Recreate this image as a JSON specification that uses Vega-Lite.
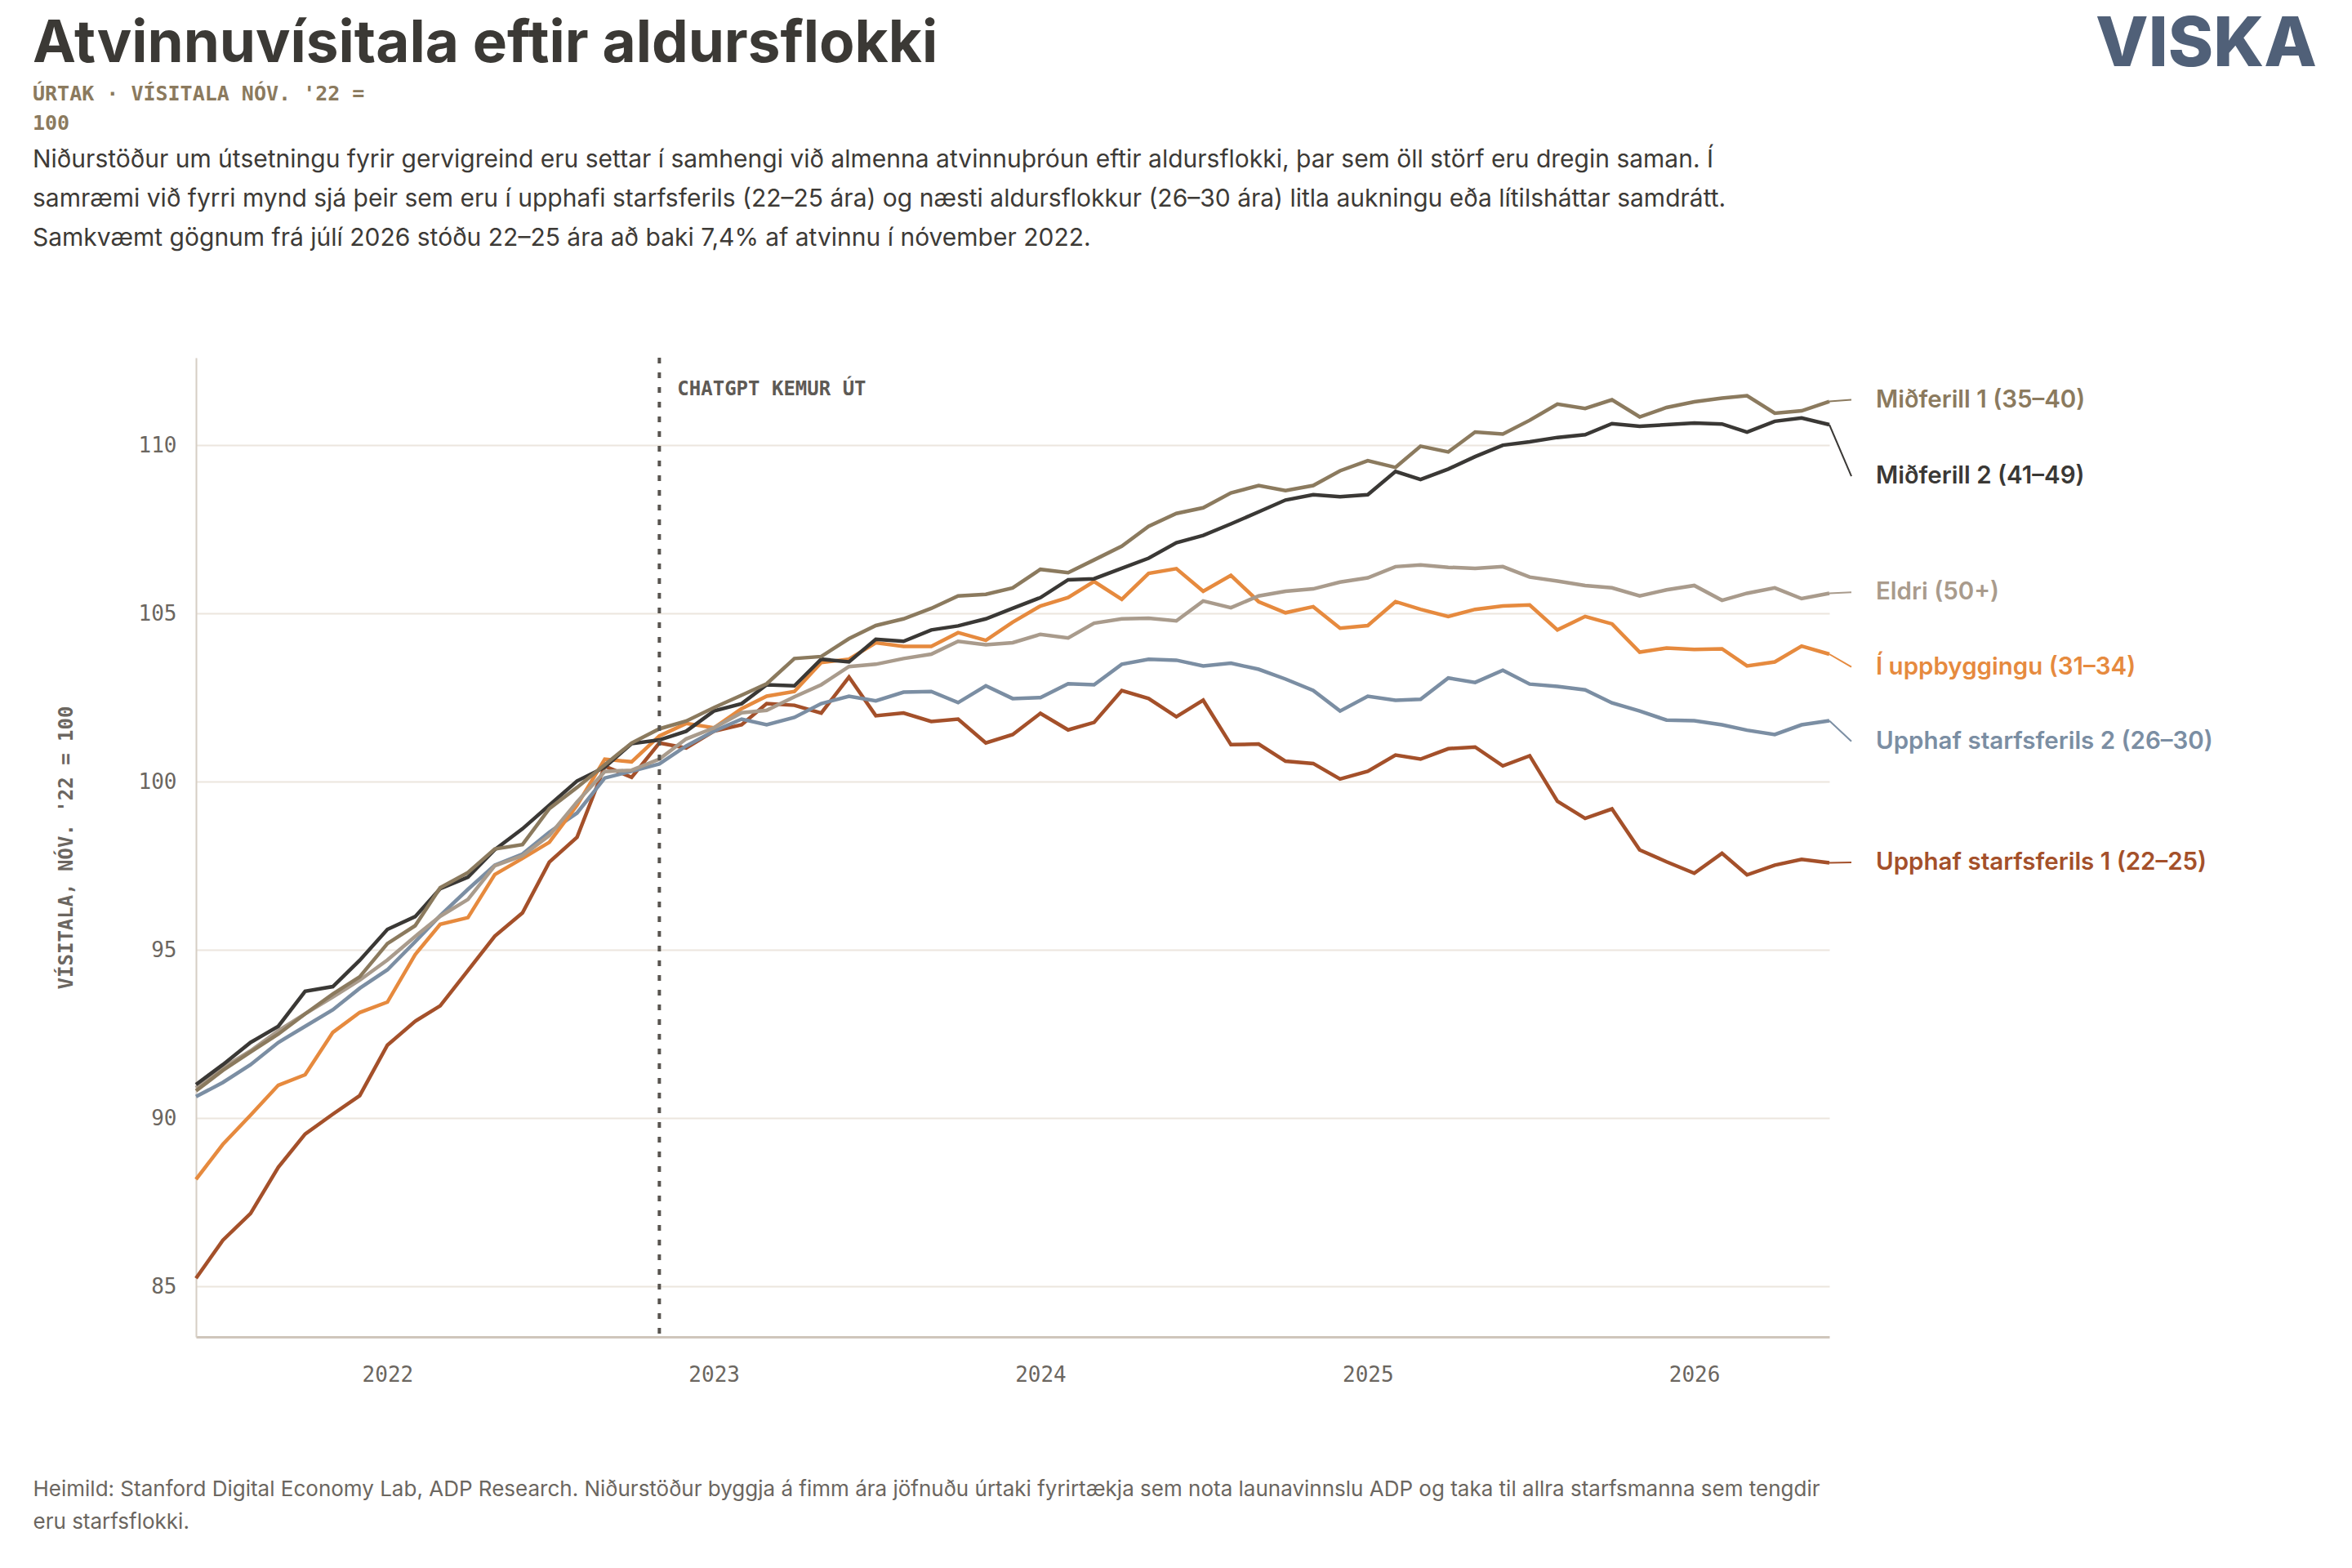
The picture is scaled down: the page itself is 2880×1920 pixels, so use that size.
{
  "$schema": "https://vega.github.io/schema/vega-lite/v6.json",
  "description": "Atvinnuvísitala eftir aldursflokki, vísitala nóv. '22 = 100",
  "background": "#ffffff",
  "padding": {"left": 40, "top": 14, "right": 20, "bottom": 10},
  "datasets": {
    "series": [
      {"date": "2021-06-01", "group": "22–25", "value": 85.24},
      {"date": "2021-07-01", "group": "22–25", "value": 86.37},
      {"date": "2021-08-01", "group": "22–25", "value": 87.17},
      {"date": "2021-09-01", "group": "22–25", "value": 88.54},
      {"date": "2021-10-01", "group": "22–25", "value": 89.53},
      {"date": "2021-11-01", "group": "22–25", "value": 90.12},
      {"date": "2021-12-01", "group": "22–25", "value": 90.67},
      {"date": "2022-01-01", "group": "22–25", "value": 92.17},
      {"date": "2022-02-01", "group": "22–25", "value": 92.88},
      {"date": "2022-03-01", "group": "22–25", "value": 93.34},
      {"date": "2022-04-01", "group": "22–25", "value": 94.39},
      {"date": "2022-05-01", "group": "22–25", "value": 95.41},
      {"date": "2022-06-01", "group": "22–25", "value": 96.10},
      {"date": "2022-07-01", "group": "22–25", "value": 97.61},
      {"date": "2022-08-01", "group": "22–25", "value": 98.35},
      {"date": "2022-09-01", "group": "22–25", "value": 100.46},
      {"date": "2022-10-01", "group": "22–25", "value": 100.13},
      {"date": "2022-11-01", "group": "22–25", "value": 101.15},
      {"date": "2022-12-01", "group": "22–25", "value": 101.00},
      {"date": "2023-01-01", "group": "22–25", "value": 101.50},
      {"date": "2023-02-01", "group": "22–25", "value": 101.69},
      {"date": "2023-03-01", "group": "22–25", "value": 102.32},
      {"date": "2023-04-01", "group": "22–25", "value": 102.27},
      {"date": "2023-05-01", "group": "22–25", "value": 102.04},
      {"date": "2023-06-01", "group": "22–25", "value": 103.11},
      {"date": "2023-07-01", "group": "22–25", "value": 101.96},
      {"date": "2023-08-01", "group": "22–25", "value": 102.04},
      {"date": "2023-09-01", "group": "22–25", "value": 101.79},
      {"date": "2023-10-01", "group": "22–25", "value": 101.86},
      {"date": "2023-11-01", "group": "22–25", "value": 101.15},
      {"date": "2023-12-01", "group": "22–25", "value": 101.40},
      {"date": "2024-01-01", "group": "22–25", "value": 102.03},
      {"date": "2024-02-01", "group": "22–25", "value": 101.54},
      {"date": "2024-03-01", "group": "22–25", "value": 101.76},
      {"date": "2024-04-01", "group": "22–25", "value": 102.71},
      {"date": "2024-05-01", "group": "22–25", "value": 102.47},
      {"date": "2024-06-01", "group": "22–25", "value": 101.93},
      {"date": "2024-07-01", "group": "22–25", "value": 102.42},
      {"date": "2024-08-01", "group": "22–25", "value": 101.10},
      {"date": "2024-09-01", "group": "22–25", "value": 101.12},
      {"date": "2024-10-01", "group": "22–25", "value": 100.61},
      {"date": "2024-11-01", "group": "22–25", "value": 100.54},
      {"date": "2024-12-01", "group": "22–25", "value": 100.08},
      {"date": "2025-01-01", "group": "22–25", "value": 100.31},
      {"date": "2025-02-01", "group": "22–25", "value": 100.79},
      {"date": "2025-03-01", "group": "22–25", "value": 100.67},
      {"date": "2025-04-01", "group": "22–25", "value": 100.98},
      {"date": "2025-05-01", "group": "22–25", "value": 101.03},
      {"date": "2025-06-01", "group": "22–25", "value": 100.47},
      {"date": "2025-07-01", "group": "22–25", "value": 100.77},
      {"date": "2025-08-01", "group": "22–25", "value": 99.42},
      {"date": "2025-09-01", "group": "22–25", "value": 98.91},
      {"date": "2025-10-01", "group": "22–25", "value": 99.19},
      {"date": "2025-11-01", "group": "22–25", "value": 97.97},
      {"date": "2025-12-01", "group": "22–25", "value": 97.62},
      {"date": "2026-01-01", "group": "22–25", "value": 97.28},
      {"date": "2026-02-01", "group": "22–25", "value": 97.87},
      {"date": "2026-03-01", "group": "22–25", "value": 97.23},
      {"date": "2026-04-01", "group": "22–25", "value": 97.52},
      {"date": "2026-05-01", "group": "22–25", "value": 97.69},
      {"date": "2026-06-01", "group": "22–25", "value": 97.59},

      {"date": "2021-06-01", "group": "26–30", "value": 90.64},
      {"date": "2021-07-01", "group": "26–30", "value": 91.06},
      {"date": "2021-08-01", "group": "26–30", "value": 91.59},
      {"date": "2021-09-01", "group": "26–30", "value": 92.25},
      {"date": "2021-10-01", "group": "26–30", "value": 92.73},
      {"date": "2021-11-01", "group": "26–30", "value": 93.22},
      {"date": "2021-12-01", "group": "26–30", "value": 93.86},
      {"date": "2022-01-01", "group": "26–30", "value": 94.41},
      {"date": "2022-02-01", "group": "26–30", "value": 95.24},
      {"date": "2022-03-01", "group": "26–30", "value": 96.02},
      {"date": "2022-04-01", "group": "26–30", "value": 96.80},
      {"date": "2022-05-01", "group": "26–30", "value": 97.52},
      {"date": "2022-06-01", "group": "26–30", "value": 97.85},
      {"date": "2022-07-01", "group": "26–30", "value": 98.50},
      {"date": "2022-08-01", "group": "26–30", "value": 99.07},
      {"date": "2022-09-01", "group": "26–30", "value": 100.11},
      {"date": "2022-10-01", "group": "26–30", "value": 100.31},
      {"date": "2022-11-01", "group": "26–30", "value": 100.53},
      {"date": "2022-12-01", "group": "26–30", "value": 101.06},
      {"date": "2023-01-01", "group": "26–30", "value": 101.50},
      {"date": "2023-02-01", "group": "26–30", "value": 101.86},
      {"date": "2023-03-01", "group": "26–30", "value": 101.69},
      {"date": "2023-04-01", "group": "26–30", "value": 101.91},
      {"date": "2023-05-01", "group": "26–30", "value": 102.32},
      {"date": "2023-06-01", "group": "26–30", "value": 102.54},
      {"date": "2023-07-01", "group": "26–30", "value": 102.40},
      {"date": "2023-08-01", "group": "26–30", "value": 102.66},
      {"date": "2023-09-01", "group": "26–30", "value": 102.68},
      {"date": "2023-10-01", "group": "26–30", "value": 102.35},
      {"date": "2023-11-01", "group": "26–30", "value": 102.85},
      {"date": "2023-12-01", "group": "26–30", "value": 102.47},
      {"date": "2024-01-01", "group": "26–30", "value": 102.50},
      {"date": "2024-02-01", "group": "26–30", "value": 102.91},
      {"date": "2024-03-01", "group": "26–30", "value": 102.88},
      {"date": "2024-04-01", "group": "26–30", "value": 103.49},
      {"date": "2024-05-01", "group": "26–30", "value": 103.64},
      {"date": "2024-06-01", "group": "26–30", "value": 103.61},
      {"date": "2024-07-01", "group": "26–30", "value": 103.44},
      {"date": "2024-08-01", "group": "26–30", "value": 103.52},
      {"date": "2024-09-01", "group": "26–30", "value": 103.34},
      {"date": "2024-10-01", "group": "26–30", "value": 103.05},
      {"date": "2024-11-01", "group": "26–30", "value": 102.71},
      {"date": "2024-12-01", "group": "26–30", "value": 102.10},
      {"date": "2025-01-01", "group": "26–30", "value": 102.54},
      {"date": "2025-02-01", "group": "26–30", "value": 102.42},
      {"date": "2025-03-01", "group": "26–30", "value": 102.45},
      {"date": "2025-04-01", "group": "26–30", "value": 103.08},
      {"date": "2025-05-01", "group": "26–30", "value": 102.95},
      {"date": "2025-06-01", "group": "26–30", "value": 103.31},
      {"date": "2025-07-01", "group": "26–30", "value": 102.90},
      {"date": "2025-08-01", "group": "26–30", "value": 102.83},
      {"date": "2025-09-01", "group": "26–30", "value": 102.73},
      {"date": "2025-10-01", "group": "26–30", "value": 102.34},
      {"date": "2025-11-01", "group": "26–30", "value": 102.10},
      {"date": "2025-12-01", "group": "26–30", "value": 101.83},
      {"date": "2026-01-01", "group": "26–30", "value": 101.81},
      {"date": "2026-02-01", "group": "26–30", "value": 101.69},
      {"date": "2026-03-01", "group": "26–30", "value": 101.53},
      {"date": "2026-04-01", "group": "26–30", "value": 101.40},
      {"date": "2026-05-01", "group": "26–30", "value": 101.69},
      {"date": "2026-06-01", "group": "26–30", "value": 101.81},

      {"date": "2021-06-01", "group": "31–34", "value": 88.18},
      {"date": "2021-07-01", "group": "31–34", "value": 89.22},
      {"date": "2021-08-01", "group": "31–34", "value": 90.09},
      {"date": "2021-09-01", "group": "31–34", "value": 90.98},
      {"date": "2021-10-01", "group": "31–34", "value": 91.29},
      {"date": "2021-11-01", "group": "31–34", "value": 92.55},
      {"date": "2021-12-01", "group": "31–34", "value": 93.14},
      {"date": "2022-01-01", "group": "31–34", "value": 93.45},
      {"date": "2022-02-01", "group": "31–34", "value": 94.86},
      {"date": "2022-03-01", "group": "31–34", "value": 95.76},
      {"date": "2022-04-01", "group": "31–34", "value": 95.96},
      {"date": "2022-05-01", "group": "31–34", "value": 97.24},
      {"date": "2022-06-01", "group": "31–34", "value": 97.72},
      {"date": "2022-07-01", "group": "31–34", "value": 98.20},
      {"date": "2022-08-01", "group": "31–34", "value": 99.30},
      {"date": "2022-09-01", "group": "31–34", "value": 100.67},
      {"date": "2022-10-01", "group": "31–34", "value": 100.59},
      {"date": "2022-11-01", "group": "31–34", "value": 101.36},
      {"date": "2022-12-01", "group": "31–34", "value": 101.73},
      {"date": "2023-01-01", "group": "31–34", "value": 101.60},
      {"date": "2023-02-01", "group": "31–34", "value": 102.17},
      {"date": "2023-03-01", "group": "31–34", "value": 102.54},
      {"date": "2023-04-01", "group": "31–34", "value": 102.68},
      {"date": "2023-05-01", "group": "31–34", "value": 103.54},
      {"date": "2023-06-01", "group": "31–34", "value": 103.64},
      {"date": "2023-07-01", "group": "31–34", "value": 104.13},
      {"date": "2023-08-01", "group": "31–34", "value": 104.02},
      {"date": "2023-09-01", "group": "31–34", "value": 104.02},
      {"date": "2023-10-01", "group": "31–34", "value": 104.43},
      {"date": "2023-11-01", "group": "31–34", "value": 104.20},
      {"date": "2023-12-01", "group": "31–34", "value": 104.74},
      {"date": "2024-01-01", "group": "31–34", "value": 105.22},
      {"date": "2024-02-01", "group": "31–34", "value": 105.47},
      {"date": "2024-03-01", "group": "31–34", "value": 105.95},
      {"date": "2024-04-01", "group": "31–34", "value": 105.42},
      {"date": "2024-05-01", "group": "31–34", "value": 106.19},
      {"date": "2024-06-01", "group": "31–34", "value": 106.33},
      {"date": "2024-07-01", "group": "31–34", "value": 105.66},
      {"date": "2024-08-01", "group": "31–34", "value": 106.13},
      {"date": "2024-09-01", "group": "31–34", "value": 105.35},
      {"date": "2024-10-01", "group": "31–34", "value": 105.02},
      {"date": "2024-11-01", "group": "31–34", "value": 105.20},
      {"date": "2024-12-01", "group": "31–34", "value": 104.56},
      {"date": "2025-01-01", "group": "31–34", "value": 104.64},
      {"date": "2025-02-01", "group": "31–34", "value": 105.35},
      {"date": "2025-03-01", "group": "31–34", "value": 105.12},
      {"date": "2025-04-01", "group": "31–34", "value": 104.91},
      {"date": "2025-05-01", "group": "31–34", "value": 105.12},
      {"date": "2025-06-01", "group": "31–34", "value": 105.22},
      {"date": "2025-07-01", "group": "31–34", "value": 105.25},
      {"date": "2025-08-01", "group": "31–34", "value": 104.51},
      {"date": "2025-09-01", "group": "31–34", "value": 104.91},
      {"date": "2025-10-01", "group": "31–34", "value": 104.69},
      {"date": "2025-11-01", "group": "31–34", "value": 103.85},
      {"date": "2025-12-01", "group": "31–34", "value": 103.97},
      {"date": "2026-01-01", "group": "31–34", "value": 103.93},
      {"date": "2026-02-01", "group": "31–34", "value": 103.95},
      {"date": "2026-03-01", "group": "31–34", "value": 103.44},
      {"date": "2026-04-01", "group": "31–34", "value": 103.56},
      {"date": "2026-05-01", "group": "31–34", "value": 104.03},
      {"date": "2026-06-01", "group": "31–34", "value": 103.79},

      {"date": "2021-06-01", "group": "50+", "value": 90.90},
      {"date": "2021-07-01", "group": "50+", "value": 91.50},
      {"date": "2021-08-01", "group": "50+", "value": 92.00},
      {"date": "2021-09-01", "group": "50+", "value": 92.60},
      {"date": "2021-10-01", "group": "50+", "value": 93.10},
      {"date": "2021-11-01", "group": "50+", "value": 93.60},
      {"date": "2021-12-01", "group": "50+", "value": 94.10},
      {"date": "2022-01-01", "group": "50+", "value": 94.70},
      {"date": "2022-02-01", "group": "50+", "value": 95.40},
      {"date": "2022-03-01", "group": "50+", "value": 96.00},
      {"date": "2022-04-01", "group": "50+", "value": 96.50},
      {"date": "2022-05-01", "group": "50+", "value": 97.50},
      {"date": "2022-06-01", "group": "50+", "value": 97.80},
      {"date": "2022-07-01", "group": "50+", "value": 98.40},
      {"date": "2022-08-01", "group": "50+", "value": 99.40},
      {"date": "2022-09-01", "group": "50+", "value": 100.30},
      {"date": "2022-10-01", "group": "50+", "value": 100.34},
      {"date": "2022-11-01", "group": "50+", "value": 100.67},
      {"date": "2022-12-01", "group": "50+", "value": 101.27},
      {"date": "2023-01-01", "group": "50+", "value": 101.60},
      {"date": "2023-02-01", "group": "50+", "value": 102.05},
      {"date": "2023-03-01", "group": "50+", "value": 102.12},
      {"date": "2023-04-01", "group": "50+", "value": 102.52},
      {"date": "2023-05-01", "group": "50+", "value": 102.88},
      {"date": "2023-06-01", "group": "50+", "value": 103.42},
      {"date": "2023-07-01", "group": "50+", "value": 103.49},
      {"date": "2023-08-01", "group": "50+", "value": 103.66},
      {"date": "2023-09-01", "group": "50+", "value": 103.79},
      {"date": "2023-10-01", "group": "50+", "value": 104.17},
      {"date": "2023-11-01", "group": "50+", "value": 104.07},
      {"date": "2023-12-01", "group": "50+", "value": 104.13},
      {"date": "2024-01-01", "group": "50+", "value": 104.38},
      {"date": "2024-02-01", "group": "50+", "value": 104.27},
      {"date": "2024-03-01", "group": "50+", "value": 104.71},
      {"date": "2024-04-01", "group": "50+", "value": 104.84},
      {"date": "2024-05-01", "group": "50+", "value": 104.86},
      {"date": "2024-06-01", "group": "50+", "value": 104.78},
      {"date": "2024-07-01", "group": "50+", "value": 105.37},
      {"date": "2024-08-01", "group": "50+", "value": 105.17},
      {"date": "2024-09-01", "group": "50+", "value": 105.52},
      {"date": "2024-10-01", "group": "50+", "value": 105.66},
      {"date": "2024-11-01", "group": "50+", "value": 105.73},
      {"date": "2024-12-01", "group": "50+", "value": 105.93},
      {"date": "2025-01-01", "group": "50+", "value": 106.06},
      {"date": "2025-02-01", "group": "50+", "value": 106.39},
      {"date": "2025-03-01", "group": "50+", "value": 106.44},
      {"date": "2025-04-01", "group": "50+", "value": 106.37},
      {"date": "2025-05-01", "group": "50+", "value": 106.34},
      {"date": "2025-06-01", "group": "50+", "value": 106.39},
      {"date": "2025-07-01", "group": "50+", "value": 106.08},
      {"date": "2025-08-01", "group": "50+", "value": 105.96},
      {"date": "2025-09-01", "group": "50+", "value": 105.83},
      {"date": "2025-10-01", "group": "50+", "value": 105.76},
      {"date": "2025-11-01", "group": "50+", "value": 105.52},
      {"date": "2025-12-01", "group": "50+", "value": 105.70},
      {"date": "2026-01-01", "group": "50+", "value": 105.83},
      {"date": "2026-02-01", "group": "50+", "value": 105.39},
      {"date": "2026-03-01", "group": "50+", "value": 105.60},
      {"date": "2026-04-01", "group": "50+", "value": 105.76},
      {"date": "2026-05-01", "group": "50+", "value": 105.44},
      {"date": "2026-06-01", "group": "50+", "value": 105.60},

      {"date": "2021-06-01", "group": "41–49", "value": 91.00},
      {"date": "2021-07-01", "group": "41–49", "value": 91.59},
      {"date": "2021-08-01", "group": "41–49", "value": 92.25},
      {"date": "2021-09-01", "group": "41–49", "value": 92.73},
      {"date": "2021-10-01", "group": "41–49", "value": 93.77},
      {"date": "2021-11-01", "group": "41–49", "value": 93.91},
      {"date": "2021-12-01", "group": "41–49", "value": 94.69},
      {"date": "2022-01-01", "group": "41–49", "value": 95.61},
      {"date": "2022-02-01", "group": "41–49", "value": 95.99},
      {"date": "2022-03-01", "group": "41–49", "value": 96.82},
      {"date": "2022-04-01", "group": "41–49", "value": 97.16},
      {"date": "2022-05-01", "group": "41–49", "value": 97.98},
      {"date": "2022-06-01", "group": "41–49", "value": 98.60},
      {"date": "2022-07-01", "group": "41–49", "value": 99.30},
      {"date": "2022-08-01", "group": "41–49", "value": 100.02},
      {"date": "2022-09-01", "group": "41–49", "value": 100.43},
      {"date": "2022-10-01", "group": "41–49", "value": 101.13},
      {"date": "2022-11-01", "group": "41–49", "value": 101.24},
      {"date": "2022-12-01", "group": "41–49", "value": 101.50},
      {"date": "2023-01-01", "group": "41–49", "value": 102.10},
      {"date": "2023-02-01", "group": "41–49", "value": 102.32},
      {"date": "2023-03-01", "group": "41–49", "value": 102.88},
      {"date": "2023-04-01", "group": "41–49", "value": 102.85},
      {"date": "2023-05-01", "group": "41–49", "value": 103.64},
      {"date": "2023-06-01", "group": "41–49", "value": 103.56},
      {"date": "2023-07-01", "group": "41–49", "value": 104.23},
      {"date": "2023-08-01", "group": "41–49", "value": 104.17},
      {"date": "2023-09-01", "group": "41–49", "value": 104.51},
      {"date": "2023-10-01", "group": "41–49", "value": 104.63},
      {"date": "2023-11-01", "group": "41–49", "value": 104.84},
      {"date": "2023-12-01", "group": "41–49", "value": 105.15},
      {"date": "2024-01-01", "group": "41–49", "value": 105.47},
      {"date": "2024-02-01", "group": "41–49", "value": 106.00},
      {"date": "2024-03-01", "group": "41–49", "value": 106.03},
      {"date": "2024-04-01", "group": "41–49", "value": 106.34},
      {"date": "2024-05-01", "group": "41–49", "value": 106.64},
      {"date": "2024-06-01", "group": "41–49", "value": 107.10},
      {"date": "2024-07-01", "group": "41–49", "value": 107.32},
      {"date": "2024-08-01", "group": "41–49", "value": 107.66},
      {"date": "2024-09-01", "group": "41–49", "value": 108.02},
      {"date": "2024-10-01", "group": "41–49", "value": 108.37},
      {"date": "2024-11-01", "group": "41–49", "value": 108.53},
      {"date": "2024-12-01", "group": "41–49", "value": 108.47},
      {"date": "2025-01-01", "group": "41–49", "value": 108.53},
      {"date": "2025-02-01", "group": "41–49", "value": 109.22},
      {"date": "2025-03-01", "group": "41–49", "value": 108.98},
      {"date": "2025-04-01", "group": "41–49", "value": 109.29},
      {"date": "2025-05-01", "group": "41–49", "value": 109.66},
      {"date": "2025-06-01", "group": "41–49", "value": 110.00},
      {"date": "2025-07-01", "group": "41–49", "value": 110.10},
      {"date": "2025-08-01", "group": "41–49", "value": 110.23},
      {"date": "2025-09-01", "group": "41–49", "value": 110.31},
      {"date": "2025-10-01", "group": "41–49", "value": 110.64},
      {"date": "2025-11-01", "group": "41–49", "value": 110.56},
      {"date": "2025-12-01", "group": "41–49", "value": 110.61},
      {"date": "2026-01-01", "group": "41–49", "value": 110.66},
      {"date": "2026-02-01", "group": "41–49", "value": 110.63},
      {"date": "2026-03-01", "group": "41–49", "value": 110.39},
      {"date": "2026-04-01", "group": "41–49", "value": 110.71},
      {"date": "2026-05-01", "group": "41–49", "value": 110.81},
      {"date": "2026-06-01", "group": "41–49", "value": 110.61},

      {"date": "2021-06-01", "group": "35–40", "value": 90.81},
      {"date": "2021-07-01", "group": "35–40", "value": 91.42},
      {"date": "2021-08-01", "group": "35–40", "value": 91.97},
      {"date": "2021-09-01", "group": "35–40", "value": 92.50},
      {"date": "2021-10-01", "group": "35–40", "value": 93.10},
      {"date": "2021-11-01", "group": "35–40", "value": 93.69},
      {"date": "2021-12-01", "group": "35–40", "value": 94.20},
      {"date": "2022-01-01", "group": "35–40", "value": 95.19},
      {"date": "2022-02-01", "group": "35–40", "value": 95.72},
      {"date": "2022-03-01", "group": "35–40", "value": 96.85},
      {"date": "2022-04-01", "group": "35–40", "value": 97.30},
      {"date": "2022-05-01", "group": "35–40", "value": 98.00},
      {"date": "2022-06-01", "group": "35–40", "value": 98.13},
      {"date": "2022-07-01", "group": "35–40", "value": 99.20},
      {"date": "2022-08-01", "group": "35–40", "value": 99.83},
      {"date": "2022-09-01", "group": "35–40", "value": 100.50},
      {"date": "2022-10-01", "group": "35–40", "value": 101.15},
      {"date": "2022-11-01", "group": "35–40", "value": 101.57},
      {"date": "2022-12-01", "group": "35–40", "value": 101.80},
      {"date": "2023-01-01", "group": "35–40", "value": 102.20},
      {"date": "2023-02-01", "group": "35–40", "value": 102.57},
      {"date": "2023-03-01", "group": "35–40", "value": 102.91},
      {"date": "2023-04-01", "group": "35–40", "value": 103.66},
      {"date": "2023-05-01", "group": "35–40", "value": 103.72},
      {"date": "2023-06-01", "group": "35–40", "value": 104.25},
      {"date": "2023-07-01", "group": "35–40", "value": 104.64},
      {"date": "2023-08-01", "group": "35–40", "value": 104.84},
      {"date": "2023-09-01", "group": "35–40", "value": 105.15},
      {"date": "2023-10-01", "group": "35–40", "value": 105.52},
      {"date": "2023-11-01", "group": "35–40", "value": 105.57},
      {"date": "2023-12-01", "group": "35–40", "value": 105.76},
      {"date": "2024-01-01", "group": "35–40", "value": 106.31},
      {"date": "2024-02-01", "group": "35–40", "value": 106.21},
      {"date": "2024-03-01", "group": "35–40", "value": 106.59},
      {"date": "2024-04-01", "group": "35–40", "value": 107.00},
      {"date": "2024-05-01", "group": "35–40", "value": 107.59},
      {"date": "2024-06-01", "group": "35–40", "value": 107.97},
      {"date": "2024-07-01", "group": "35–40", "value": 108.14},
      {"date": "2024-08-01", "group": "35–40", "value": 108.58},
      {"date": "2024-09-01", "group": "35–40", "value": 108.80},
      {"date": "2024-10-01", "group": "35–40", "value": 108.65},
      {"date": "2024-11-01", "group": "35–40", "value": 108.80},
      {"date": "2024-12-01", "group": "35–40", "value": 109.24},
      {"date": "2025-01-01", "group": "35–40", "value": 109.54},
      {"date": "2025-02-01", "group": "35–40", "value": 109.34},
      {"date": "2025-03-01", "group": "35–40", "value": 109.97},
      {"date": "2025-04-01", "group": "35–40", "value": 109.80},
      {"date": "2025-05-01", "group": "35–40", "value": 110.39},
      {"date": "2025-06-01", "group": "35–40", "value": 110.33},
      {"date": "2025-07-01", "group": "35–40", "value": 110.74},
      {"date": "2025-08-01", "group": "35–40", "value": 111.22},
      {"date": "2025-09-01", "group": "35–40", "value": 111.09},
      {"date": "2025-10-01", "group": "35–40", "value": 111.35},
      {"date": "2025-11-01", "group": "35–40", "value": 110.84},
      {"date": "2025-12-01", "group": "35–40", "value": 111.12},
      {"date": "2026-01-01", "group": "35–40", "value": 111.29},
      {"date": "2026-02-01", "group": "35–40", "value": 111.40},
      {"date": "2026-03-01", "group": "35–40", "value": 111.47},
      {"date": "2026-04-01", "group": "35–40", "value": 110.95},
      {"date": "2026-05-01", "group": "35–40", "value": 111.02},
      {"date": "2026-06-01", "group": "35–40", "value": 111.30}
    ],
    "labels": [
      {"group": "35–40", "label": "Miðferill 1 (35–40)", "labelAt": 111.35},
      {"group": "41–49", "label": "Miðferill 2 (41–49)", "labelAt": 109.08},
      {"group": "50+", "label": "Eldri (50+)", "labelAt": 105.63},
      {"group": "31–34", "label": "Í uppbyggingu (31–34)", "labelAt": 103.41},
      {"group": "26–30", "label": "Upphaf starfsferils 2 (26–30)", "labelAt": 101.2},
      {"group": "22–25", "label": "Upphaf starfsferils 1 (22–25)", "labelAt": 97.6}
    ],
    "events": [
      {"date": "2022-11-01", "label": "CHATGPT KEMUR ÚT"}
    ]
  },
  "title": {
    "text": "VISKA",
    "anchor": "end",
    "frame": "bounds",
    "font": "Inter",
    "fontSize": 84,
    "fontWeight": 800,
    "color": "#506078",
    "dx": 127,
    "dy": 80,
    "offset": 0
  },
  "vconcat": [
    {
      "title": {
        "text": "Atvinnuvísitala eftir aldursflokki",
        "subtitle": ["ÚRTAK · VÍSITALA NÓV. '22 =", "100"],
        "anchor": "start",
        "frame": "bounds",
        "font": "Inter",
        "fontSize": 71,
        "fontWeight": 700,
        "color": "#3b3935",
        "subtitleFont": "DejaVu Sans Mono",
        "subtitleFontSize": 25,
        "subtitleFontWeight": "bold",
        "subtitleColor": "#8b7a5e",
        "subtitleLineHeight": 36,
        "subtitlePadding": 12,
        "offset": 16
      },
      "vconcat": [
        {
          "title": {
            "text": [
              "Niðurstöður um útsetningu fyrir gervigreind eru settar í samhengi við almenna atvinnuþróun eftir aldursflokki, þar sem öll störf eru dregin saman. Í",
              "samræmi við fyrri mynd sjá þeir sem eru í upphafi starfsferils (22–25 ára) og næsti aldursflokkur (26–30 ára) litla aukningu eða lítilsháttar samdrátt.",
              "Samkvæmt gögnum frá júlí 2026 stóðu 22–25 ára að baki 7,4% af atvinnu í nóvember 2022."
            ],
            "anchor": "start",
            "frame": "bounds",
            "font": "Inter",
            "fontSize": 30,
            "fontWeight": 400,
            "color": "#3d3a36",
            "lineHeight": 48,
            "offset": 129
          },
          "width": 2000,
          "height": 1199,
          "encoding": {
            "x": {
              "field": "date",
              "type": "temporal",
              "scale": {
                "type": "utc",
                "nice": false,
                "domain": [
                  {"year": 2021, "month": 6, "date": 1, "utc": true},
                  {"year": 2026, "month": 6, "date": 1, "utc": true}
                ]
              },
              "axis": {
                "title": [
                  "Heimild: Stanford Digital Economy Lab, ADP Research. Niðurstöður byggja á fimm ára jöfnuðu úrtaki fyrirtækja sem nota launavinnslu ADP og taka til allra starfsmanna sem tengdir",
                  "eru starfsflokki."
                ],
                "titleFont": "Inter",
                "titleFontSize": 26,
                "titleFontWeight": 400,
                "titleColor": "#6b6660",
                "titleAnchor": "start",
                "titleAlign": "left",
                "titleBaseline": "top",
                "titleLineHeight": 40,
                "titleX": -200,
                "titleY": 173,
                "format": "%Y",
                "tickCount": {"interval": "year", "step": 1},
                "labelFont": "DejaVu Sans Mono",
                "labelFontSize": 26,
                "labelColor": "#6b6660",
                "labelPadding": 33,
                "ticks": false,
                "grid": false,
                "domainColor": "#cfc6bb",
                "domainWidth": 3
              }
            }
          },
          "layer": [
            {
              "data": {"name": "series"},
              "mark": {"type": "line", "strokeWidth": 4.5},
              "encoding": {
                "y": {
                  "field": "value",
                  "type": "quantitative",
                  "scale": {"domain": [83.5, 112.6], "nice": false, "zero": false},
                  "axis": {
                    "title": "VÍSITALA, NÓV. '22 = 100",
                    "titleFont": "DejaVu Sans Mono",
                    "titleFontSize": 24,
                    "titleFontWeight": "bold",
                    "titleColor": "#6b6660",
                    "titlePadding": 76,
                    "values": [85, 90, 95, 100, 105, 110],
                    "labelFont": "DejaVu Sans Mono",
                    "labelFontSize": 26,
                    "labelColor": "#6b6660",
                    "labelPadding": 24,
                    "ticks": false,
                    "grid": true,
                    "gridColor": "#ece6de",
                    "gridWidth": 2,
                    "domainColor": "#d6cec4",
                    "domainWidth": 2
                  }
                },
                "color": {
                  "field": "group",
                  "type": "nominal",
                  "scale": {
                    "domain": ["35–40", "41–49", "50+", "31–34", "26–30", "22–25"],
                    "range": ["#8b7a5e", "#3a3835", "#a99b8c", "#e68a3e", "#7b8ea3", "#a4502a"]
                  },
                  "legend": null
                }
              }
            },
            {
              "data": {"name": "events"},
              "mark": {"type": "rule", "strokeDash": [7, 11], "strokeWidth": 4, "color": "#58544f"},
              "encoding": {}
            },
            {
              "data": {"name": "events"},
              "mark": {
                "type": "text",
                "align": "left",
                "baseline": "middle",
                "dx": 22,
                "font": "DejaVu Sans Mono",
                "fontWeight": "bold",
                "fontSize": 24,
                "letterSpacing": 4,
                "color": "#5e5a55"
              },
              "encoding": {
                "y": {"datum": 111.65, "type": "quantitative"},
                "text": {"field": "label"}
              }
            },
            {
              "data": {"name": "series"},
              "transform": [
                {"filter": "+toDate(datum.date) === utc(2026, 5, 1)"},
                {"lookup": "group", "from": {"data": {"name": "labels"}, "key": "group", "fields": ["label", "labelAt"]}}
              ],
              "mark": {"type": "rule", "strokeWidth": 2, "x2Offset": 27},
              "encoding": {
                "x2": {"field": "date"},
                "y": {"field": "value", "type": "quantitative"},
                "y2": {"field": "labelAt"},
                "color": {"field": "group", "type": "nominal", "legend": null}
              }
            },
            {
              "data": {"name": "series"},
              "transform": [
                {"filter": "+toDate(datum.date) === utc(2026, 5, 1)"},
                {"lookup": "group", "from": {"data": {"name": "labels"}, "key": "group", "fields": ["label", "labelAt"]}}
              ],
              "mark": {
                "type": "text",
                "align": "left",
                "baseline": "middle",
                "dx": 57,
                "font": "Inter",
                "fontSize": 29.5,
                "fontWeight": 600
              },
              "encoding": {
                "y": {"field": "labelAt", "type": "quantitative"},
                "text": {"field": "label"},
                "color": {"field": "group", "type": "nominal", "legend": null}
              }
            }
          ]
        }
      ]
    }
  ],
  "config": {
    "view": {"stroke": null},
    "concat": {"spacing": 0}
  }
}
